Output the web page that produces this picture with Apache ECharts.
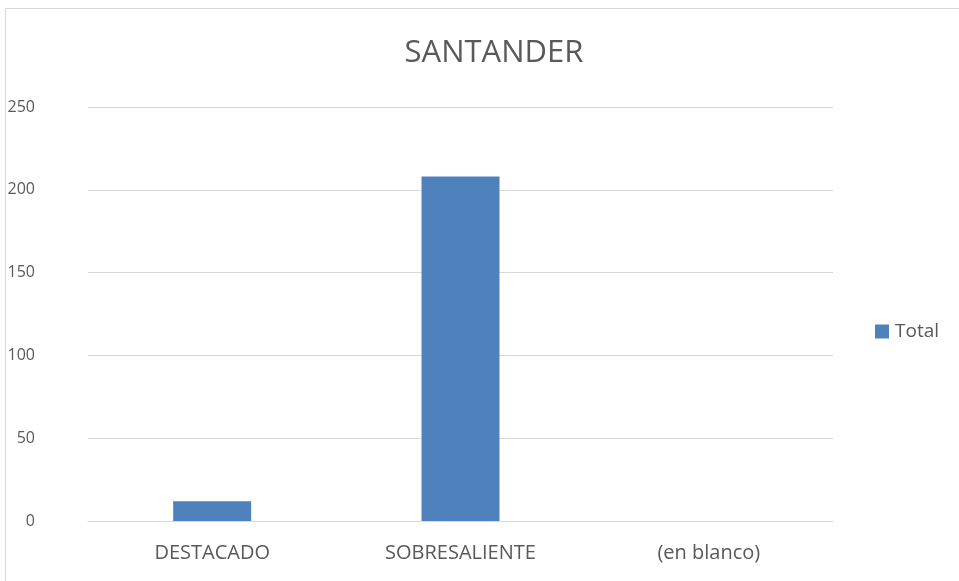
<!DOCTYPE html>
<html>
<head>
<meta charset="utf-8">
<script src="https://cdn.jsdelivr.net/npm/echarts@6/dist/echarts.min.js"></script>
<style>
  html, body { margin: 0; padding: 0; background: #fff; }
  #frame { position: absolute; left: 5px; top: 8px; width: 980px; height: 600px; border: 1px solid #d9d9d9; box-sizing: border-box; }
  #chart { position: absolute; left: 0; top: 0; width: 959px; height: 581px; }
</style>
</head>
<body>
<div id="frame"></div>
<div id="chart"></div>
<script>
// datos de la grafica
var categorias = ['DESTACADO', 'SOBRESALIENTE', '(en blanco)'];
var totales = [12, 208, 0];
var nombreSerie = 'Total';

var myChart = echarts.init(document.getElementById('chart'));

var option = {
    animation: false,
    title: {
        text: 'SANTANDER',
        left: 489,
        top: 33,
        textAlign: 'center',
        textStyle: { fontFamily: 'Open Sans', fontWeight: 'normal', fontSize: 31, color: '#595959' }
    },
    legend: {
        data: [nombreSerie],
        left: 870,
        top: 317,
        itemWidth: 14,
        itemHeight: 14,
        itemGap: 4,
        textStyle: { fontFamily: 'Open Sans', fontSize: 19, color: '#595959', padding: [0, 0, 0, 1] },
        icon: 'rect'
    },
    grid: { left: 88, right: 126, top: 107, bottom: 60 },
    xAxis: {
        type: 'category',
        data: categorias,
        axisLine: { lineStyle: { color: '#d9d9d9', width: 1 } },
        axisTick: { show: false },
        axisLabel: { fontFamily: 'Open Sans', fontSize: 20, color: '#595959', margin: 22 }
    },
    yAxis: {
        type: 'value',
        min: 0,
        max: 250,
        interval: 50,
        axisLine: { show: false },
        axisTick: { show: false },
        splitLine: { lineStyle: { color: '#d9d9d9', width: 1 } },
        axisLabel: { fontFamily: 'Open Sans', fontSize: 16, color: '#595959', margin: 53 }
    },
    series: [{
        name: nombreSerie,
        type: 'bar',
        data: totales,
        barWidth: 78,
        itemStyle: { color: '#4f81bd' }
    }]
};

myChart.setOption(option);
</script>
</body>
</html>
